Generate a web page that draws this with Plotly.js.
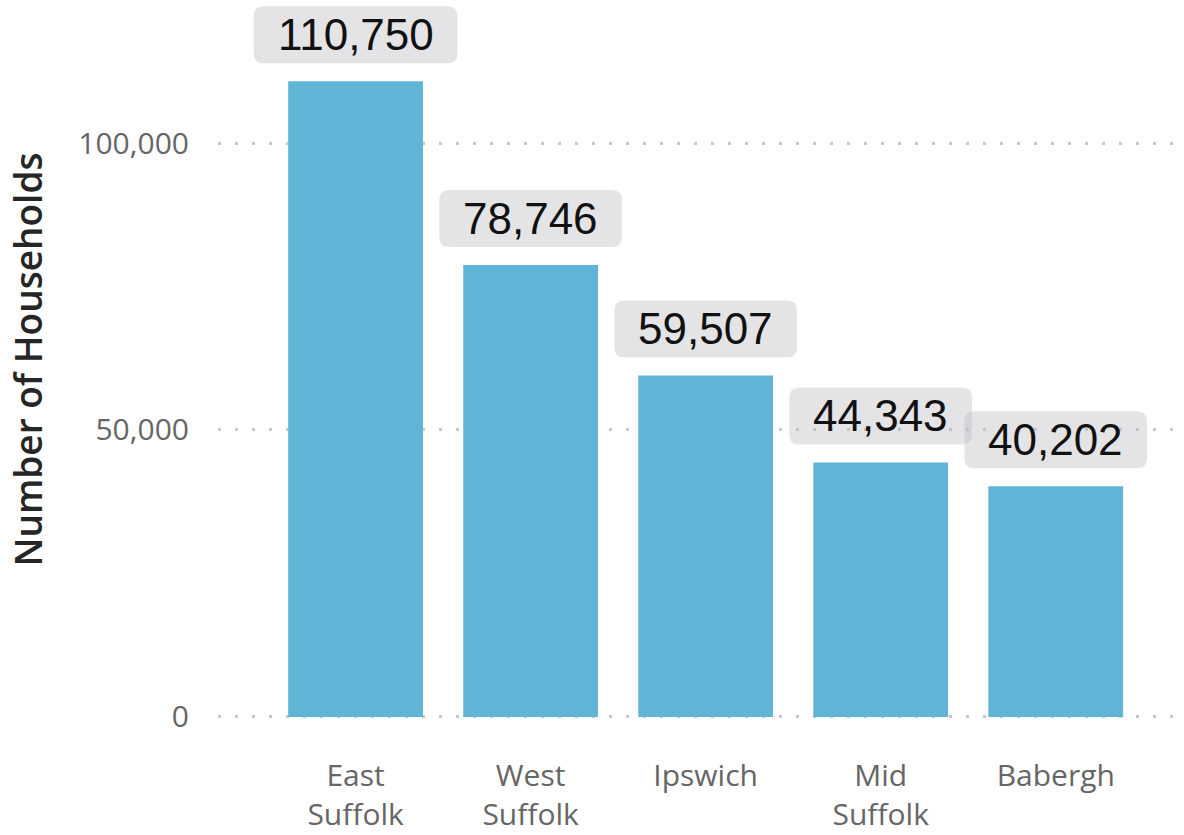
<!DOCTYPE html>
<html>
<head>
<meta charset="utf-8">
<script src="https://cdn.plot.ly/plotly-3.0.1.min.js"></script>
<style>html,body{margin:0;padding:0;background:#fff;}#chart{width:1184px;height:835px;}</style>
</head>
<body>
<div id="chart"></div>
<script>
const categories = ["East Suffolk", "West Suffolk", "Ipswich", "Mid Suffolk", "Babergh"];
const tickLabels = ["East<br>Suffolk", "West<br>Suffolk", "Ipswich", "Mid<br>Suffolk", "Babergh"];
const households = [110750, 78746, 59507, 44343, 40202];
const yTicks = [0, 50000, 100000];
const yTickLabels = ["0", "50,000", "100,000"];

const labelFont = '44px "Liberation Sans", Arial, sans-serif';
const canvas = document.createElement('canvas');
const ctx = canvas.getContext('2d');
ctx.font = labelFont;

const fmt = v => v.toLocaleString('en-US');

const shapes = [];
const annotations = [];
const boxBottom = 18, boxH = 57, r = 10;
households.forEach((v, i) => {
  const txt = fmt(v);
  const w = ctx.measureText(txt).width + 48;
  const hw = w / 2, y0 = boxBottom, y1 = boxBottom + boxH;
  const path = `M ${-hw + r},${y0} L ${hw - r},${y0} Q ${hw},${y0} ${hw},${y0 + r} L ${hw},${y1 - r} Q ${hw},${y1} ${hw - r},${y1} L ${-hw + r},${y1} Q ${-hw},${y1} ${-hw},${y1 - r} L ${-hw},${y0 + r} Q ${-hw},${y0} ${-hw + r},${y0} Z`;
  shapes.push({
    type: 'path', xref: 'x', yref: 'y',
    xsizemode: 'pixel', ysizemode: 'pixel',
    xanchor: categories[i], yanchor: v,
    path: path,
    fillcolor: 'rgba(185,185,192,0.38)',
    line: {width: 0},
    layer: 'above'
  });
  annotations.push({
    x: categories[i], y: v, xref: 'x', yref: 'y',
    text: txt, showarrow: false,
    xanchor: 'center', yanchor: 'middle',
    yshift: boxBottom + boxH / 2,
    font: {family: '"Liberation Sans", Arial, sans-serif', size: 44, color: '#111'}
  });
});

const trace = {
  type: 'bar',
  x: categories,
  y: households,
  marker: {color: '#60b4d6', line: {width: 0}},
  width: 0.77,
  hoverinfo: 'none'
};

const layout = {
  width: 1184, height: 835,
  margin: {l: 218, r: 11, t: 0, b: 116},
  paper_bgcolor: '#fff', plot_bgcolor: '#fff',
  showlegend: false,
  font: {family: '"Open Sans", sans-serif', color: '#666'},
  xaxis: {
    type: 'category',
    range: [-0.786, 4.67],
    tickmode: 'array', tickvals: categories, ticktext: tickLabels,
    tickfont: {family: '"Open Sans", sans-serif', size: 30, color: '#666'},
    showgrid: false, zeroline: false, showline: false, ticks: '',
    ticklabelstandoff: 36
  },
  yaxis: {
    range: [-350, 124913],
    tickmode: 'array', tickvals: yTicks, ticktext: yTickLabels,
    tickfont: {family: '"Open Sans", sans-serif', size: 30, color: '#666'},
    showgrid: true, gridcolor: '#c8c8c8', gridwidth: 3, griddash: '3px,14px',
    zeroline: false, showline: false, ticks: '',
    ticklabelstandoff: 28,
    title: {text: 'Number of Households', standoff: 24,
      font: {family: '"Open Sans", sans-serif', size: 37, color: '#262626', weight: 600}}
  },
  shapes: shapes,
  annotations: annotations
};

Plotly.newPlot('chart', [trace], layout, {staticPlot: true, displayModeBar: false});
</script>
</body>
</html>
